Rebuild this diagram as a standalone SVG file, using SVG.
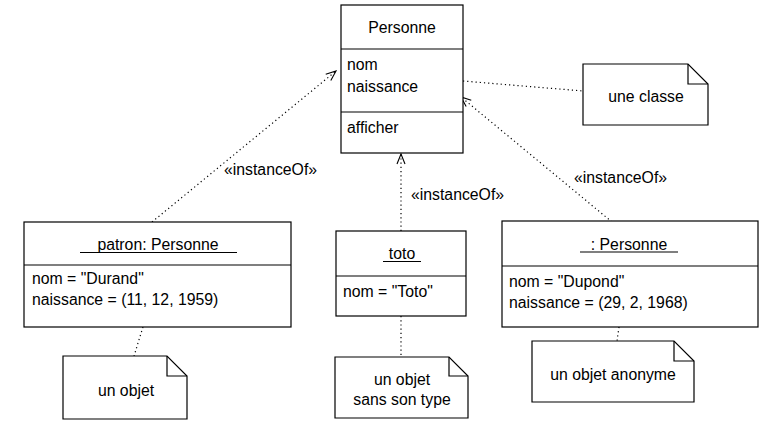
<svg xmlns="http://www.w3.org/2000/svg" width="773" height="429" viewBox="0 0 773 429">
<style>
text{font-family:"Liberation Sans",Arial,sans-serif;font-size:15.8px;fill:#000}
.box{fill:#fff;stroke:#000;stroke-width:1.2}
.ln{stroke:#000;stroke-width:1.2;fill:none}
.dot{stroke:#000;stroke-width:1.2;fill:none;stroke-dasharray:1.2 3}
.c{text-anchor:middle}
</style>
<defs>
<marker id="open" markerWidth="12" markerHeight="10" refX="11" refY="5" orient="auto" markerUnits="userSpaceOnUse">
<path d="M1,1 L11,5 L1,9" fill="none" stroke="#000" stroke-width="1.1"/>
</marker>
</defs>
<rect width="773" height="429" fill="#fff"/>
<g id="connectors">
<line class="dot" x1="152" y1="222" x2="336" y2="71" marker-end="url(#open)"/>
<line class="dot" x1="401" y1="231" x2="401" y2="154" marker-end="url(#open)"/>
<line class="dot" x1="612" y1="222" x2="461" y2="97" marker-end="url(#open)"/>
<line class="dot" x1="463" y1="81" x2="583" y2="91"/>
<line class="dot" x1="143" y1="327" x2="134" y2="356"/>
<line class="dot" x1="401" y1="316" x2="401" y2="357"/>
<line class="dot" x1="619" y1="327" x2="617" y2="341"/>
<text x="224" y="175">«instanceOf»</text>
<text x="411" y="200">«instanceOf»</text>
<text x="574" y="183">«instanceOf»</text>
</g>
<g id="personne">
<rect class="box" x="341" y="5" width="122" height="148"/>
<line class="ln" x1="341" y1="49" x2="463" y2="49"/>
<line class="ln" x1="341" y1="112" x2="463" y2="112"/>
<text class="c" x="402" y="33">Personne</text>
<text x="347" y="70">nom</text>
<text x="347" y="92">naissance</text>
<text x="347" y="133">afficher</text>
</g>
<g id="note-classe">
<path class="box" d="M583,64 H688 L708,84 V125 H583 Z"/>
<path class="ln" d="M688,64 V84 H708"/>
<text class="c" x="646" y="102">une classe</text>
</g>
<g id="patron">
<rect class="box" x="24" y="222" width="267" height="105"/>
<line class="ln" x1="24" y1="265" x2="291" y2="265"/>
<text class="c" x="158" y="250">patron: Personne</text>
<line class="ln" x1="80" y1="252.5" x2="237" y2="252.5"/>
<text x="32" y="284">nom = "Durand"</text>
<text x="32" y="305">naissance = (11, 12, 1959)</text>
</g>
<g id="toto">
<rect class="box" x="336" y="231" width="130" height="85"/>
<line class="ln" x1="336" y1="276" x2="466" y2="276"/>
<text class="c" x="402" y="259">toto</text>
<line class="ln" x1="383" y1="261.5" x2="421" y2="261.5"/>
<text x="343" y="297">nom = "Toto"</text>
</g>
<g id="dupond">
<rect class="box" x="502" y="221" width="256" height="106"/>
<line class="ln" x1="502" y1="266" x2="758" y2="266"/>
<text class="c" x="629" y="250">: Personne</text>
<line class="ln" x1="580" y1="252" x2="678" y2="252"/>
<text x="509" y="287">nom = "Dupond"</text>
<text x="509" y="308">naissance = (29, 2, 1968)</text>
</g>
<g id="note-objet">
<path class="box" d="M63,356 H167 L187,376 V419 H63 Z"/>
<path class="ln" d="M167,356 V376 H187"/>
<text class="c" x="126" y="396">un objet</text>
</g>
<g id="note-sans-type">
<path class="box" d="M335,357 H449 L468,376 V418 H335 Z"/>
<path class="ln" d="M449,357 V376 H468"/>
<text class="c" x="402" y="385">un objet</text>
<text class="c" x="402" y="405">sans son type</text>
</g>
<g id="note-anonyme">
<path class="box" d="M532,341 H674 L694,361 V402 H532 Z"/>
<path class="ln" d="M674,341 V361 H694"/>
<text class="c" x="613" y="380">un objet anonyme</text>
</g>
</svg>
